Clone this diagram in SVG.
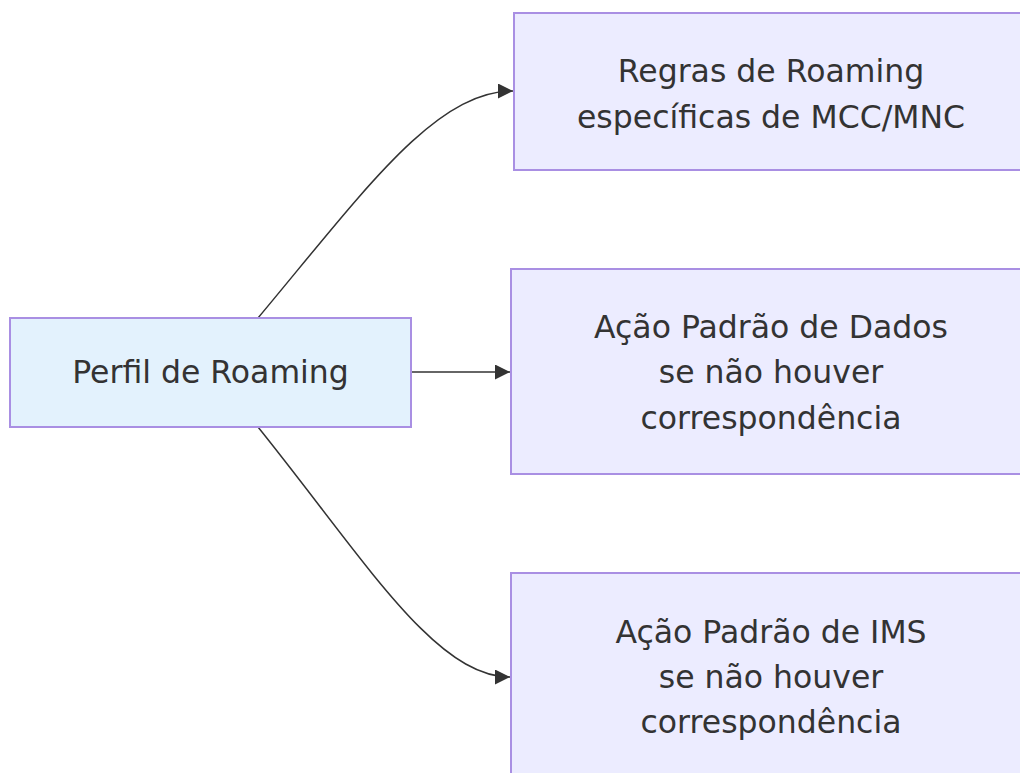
<svg xmlns="http://www.w3.org/2000/svg" width="1020" height="773" viewBox="0 0 1020 773">
<style>
.n{fill:#ececff;stroke:#a98fe3;stroke-width:2}
.s{fill:#e3f2fd;stroke:#a98fe3;stroke-width:2}
.t{font-family:"DejaVu Sans",sans-serif;font-size:31.5px;fill:#333;text-anchor:middle;dominant-baseline:central}
.e{fill:none;stroke:#333;stroke-width:1.5}
</style>
<defs>
<marker id="ah" viewBox="0 0 10 10" refX="10" refY="5" markerWidth="15" markerHeight="15" markerUnits="userSpaceOnUse" orient="auto">
<path d="M0,0 L10,5 L0,10 z" fill="#333"/>
</marker>
</defs>
<rect width="1020" height="773" fill="#fff"/>
<g id="edges">
<path class="e" d="M258,318 C365,190 435,91 513,91" marker-end="url(#ah)"/>
<path class="e" d="M411,372 L510,372" marker-end="url(#ah)"/>
<path class="e" d="M258,427 C365,560 435,677 510,677" marker-end="url(#ah)"/>
</g>
<g id="perfil">
<rect class="s" x="10" y="318" width="401" height="109"/>
<text class="t" x="210.5" y="372">Perfil de Roaming</text>
</g>
<g id="regras">
<rect class="n" x="514" y="13" width="520" height="157"/>
<text class="t" x="771" y="71">Regras de Roaming</text>
<text class="t" x="771" y="117">específicas de MCC/MNC</text>
</g>
<g id="dados">
<rect class="n" x="511" y="269" width="520" height="205"/>
<text class="t" x="771" y="327">Ação Padrão de Dados</text>
<text class="t" x="771" y="372">se não houver</text>
<text class="t" x="771" y="418">correspondência</text>
</g>
<g id="ims">
<rect class="n" x="511" y="573" width="520" height="220"/>
<text class="t" x="771" y="632">Ação Padrão de IMS</text>
<text class="t" x="771" y="677">se não houver</text>
<text class="t" x="771" y="722">correspondência</text>
</g>
</svg>
